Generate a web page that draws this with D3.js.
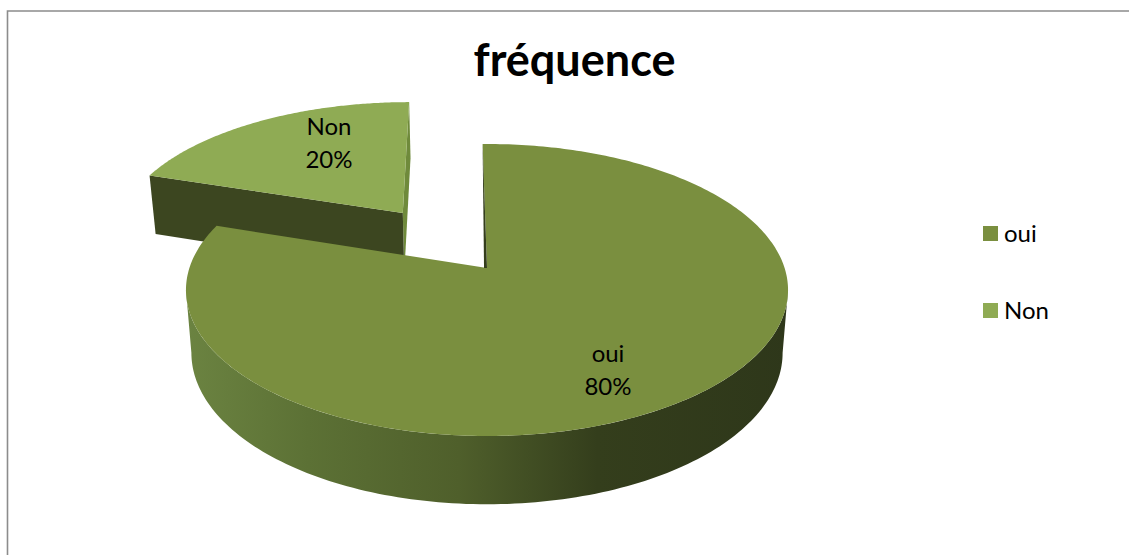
<!DOCTYPE html>
<html><head><meta charset="utf-8">
<script src="https://cdnjs.cloudflare.com/ajax/libs/d3/7.8.5/d3.min.js"></script>
<style>html,body{margin:0;padding:0;background:#fff}svg{display:block}</style></head>
<body><svg id="c" width="1129" height="555"></svg>
<script>
const categories = ["oui", "Non"];
const values = [80, 20];
const percentLabels = ["80%", "20%"];
const chartTitle = "fréquence";
const topColors = ["#7a8f3f", "#8fab54"];

const svg = d3.select("#c");
const FONT = "Lato, 'Noto Sans', sans-serif";
const color = d3.scaleOrdinal(categories, topColors);
const arcs = d3.pie().sort(null).value(d => d)(values);

// projection of the tilted disc
const K = 0.1507, X0 = 487;
const top3 = (u, v) => { const w = 1 - K * v; return [X0 + 297.6 * u / w, 268 + 142.7 * v / w]; };
const bot3 = (u, v) => { const w = 1 - K * v; return [X0 + 0.982 * 297.6 * u / w, 330 + 148 * v / w]; };
const rim = a => [Math.sin(a), -Math.cos(a)];
const samples = (a0, a1, n = 140) => d3.range(n + 1).map(i => a0 + (a1 - a0) * i / n);
const line = d3.line();

// exploded slice offset in disc units
const a2 = arcs[1];
const mid = (a2.startAngle + a2.endAngle) / 2;
const [mu, mv] = rim(mid);
const D = 0.506, ox = mu * D - 0.003, oy = mv * D;
const sl = (proj, a) => { const [u, v] = rim(a); const V = v + oy; return proj(u + ox + 0.0168 * (V + 0.41), V); };
const ctr = proj => proj(ox, oy);

// frame
svg.append("path").attr("d", "M7.5,555V11H1129").attr("fill", "none").attr("stroke", "#8c8c8c").attr("stroke-width", 1.6);

// Non: inner cut face
svg.append("path").attr("d", line([ctr(top3), sl(top3, a2.endAngle), sl(bot3, a2.endAngle), ctr(bot3)]) + "Z").attr("fill", "#6f8a3b");
// Non: front cut face
svg.append("path").attr("d", line([sl(top3, a2.startAngle), ctr(top3), ctr(bot3), sl(bot3, a2.startAngle)]) + "Z").attr("fill", "#3c4620");
// Non: top
svg.append("path").attr("d", line([ctr(top3), ...samples(a2.startAngle, a2.endAngle).map(a => sl(top3, a))]) + "Z").attr("fill", color("Non"));

// oui: side wall
const defs = svg.append("defs");
const grad = defs.append("linearGradient").attr("id", "wall").attr("gradientUnits", "userSpaceOnUse")
  .attr("x1", 188).attr("x2", 790).attr("y1", 0).attr("y2", 0);
[[0, "#6b8341"], [0.2, "#5c7135"], [0.45, "#4f5f2b"], [0.68, "#343e1c"], [1, "#2e371a"]]
  .forEach(([o, c]) => grad.append("stop").attr("offset", o).attr("stop-color", c));
const wallA = samples(Math.PI * 0.548, Math.PI * 1.452);
svg.append("path").attr("d", line([...wallA.map(a => top3(...rim(a))), ...wallA.slice().reverse().map(a => bot3(...rim(a)))]) + "Z")
  .attr("fill", "url(#wall)");

// oui: top
const a1 = arcs[0];
svg.append("path").attr("d", line([top3(0, 0), ...samples(a1.startAngle, a1.endAngle, 300).map(a => top3(...rim(a)))]) + "Z").attr("fill", color("oui"));
// oui: small extension of the top face up to the cut edge
svg.append("path").attr("d", line([top3(-0.017, -1), top3(0.002, -1), top3(0.002, 0), top3(0, 0)]) + "Z").attr("fill", color("oui"));
// oui: sliver of the cut face
svg.append("path").attr("d", line([top3(-0.017, -1), top3(-0.01, 0), top3(0, 0)]) + "Z").attr("fill", "#343e1c");

// labels
const lab = [[608, 354, 387], [329, 127, 160]];
categories.forEach((c, i) => {
  const g = svg.append("g").attr("font-family", FONT).attr("font-size", 24).attr("fill", "#000").attr("text-anchor", "middle");
  g.append("text").attr("x", lab[i][0]).attr("y", lab[i][1] + 8).text(c);
  g.append("text").attr("x", lab[i][0]).attr("y", lab[i][2] + 8).text(percentLabels[i]);
});

// title
svg.append("text").attr("x", 574.5).attr("y", 76).attr("text-anchor", "middle").attr("font-family", FONT)
  .attr("font-weight", 700).attr("font-size", 45).attr("fill", "#000").text(chartTitle);

// legend
const legendY = d3.scalePoint(categories, [233.5, 310.5]);
categories.forEach(c => {
  svg.append("rect").attr("x", 983).attr("y", legendY(c) - 7.5).attr("width", 15).attr("height", 15).attr("fill", color(c));
  svg.append("text").attr("x", 1004).attr("y", legendY(c) + 8).attr("font-family", FONT).attr("font-size", 24).attr("fill", "#000").text(c);
});
</script></body></html>
